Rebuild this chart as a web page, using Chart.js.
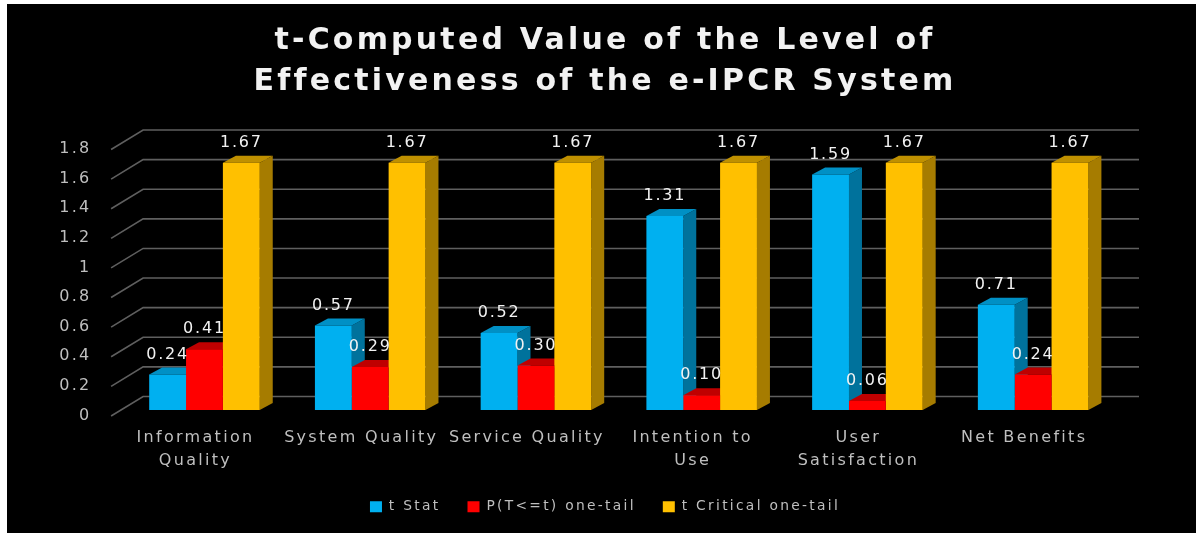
<!DOCTYPE html>
<html><head><meta charset="utf-8">
<style>html,body{margin:0;padding:0;background:#fff}#w{width:1196px;height:533px;position:relative;overflow:hidden}canvas{filter:blur(0.5px)}</style>
<script src="https://cdn.jsdelivr.net/npm/chart.js@4"></script>
</head><body><div id="w"><canvas id="c" width="1196" height="533"></canvas></div>
<script>
const titleLines = ["t-Computed Value of the Level of", "Effectiveness of the e-IPCR System"];
const categories = [["Information","Quality"],"System Quality","Service Quality",["Intention to","Use"],["User","Satisfaction"],"Net Benefits"];
const tStat = [0.24,0.57,0.52,1.31,1.59,0.71];
const pOneTail = [0.41,0.29,0.30,0.10,0.06,0.24];
const tCritical = [1.67,1.67,1.67,1.67,1.67,1.67];
const FONT = "'DejaVu Sans'";
const depthX = 13, depthY = 7, wallX = 32, wallFront = 5.5, wallBack = 13.5;
const faces = [
  {front:'#00B0F0', top:'#0090C5', side:'#00729C'},
  {front:'#FF0000', top:'#BF0000', side:'#A60000'},
  {front:'#FFC000', top:'#BF9000', side:'#A67C00'}
];
const plugin3d = {
  id:'plugin3d',
  beforeLayout(ch){ ch.ctx.letterSpacing='2.3px'; },
  afterLayout(ch){
    const tb = ch.titleBlock;
    if(tb && !tb._wrapped){
      const d = tb.draw;
      tb.draw = function(){ const c=ch.ctx; c.save(); c.letterSpacing='3.2px'; d.call(this); c.restore(); };
      tb._wrapped = true;
    }
  },
  beforeDraw(ch){
    const c = ch.ctx;
    c.letterSpacing='2.3px';
    c.save();
    c.fillStyle='#000'; c.fillRect(7,4,1189,529);
    c.restore();
  },
  beforeDatasetsDraw(ch){
    const c = ch.ctx, y = ch.scales.y;
    c.save();
    c.strokeStyle='#5f5f5f'; c.lineWidth=1.6;
    const backL = ch.chartArea.left + 21.5, backR = ch.chartArea.right + 23, frontL = backL - wallX;
    y.ticks.forEach(t=>{
      const p = y.getPixelForValue(t.value);
      c.beginPath();
      c.moveTo(frontL, p+wallFront+0.5);
      c.lineTo(backL, p-wallBack);
      c.lineTo(backR, p-wallBack);
      c.stroke();
    });
    ch.data.datasets.forEach((ds,i)=>{
      const f = faces[i];
      ch.getDatasetMeta(i).data.forEach(b=>{
        const l=b.x-b.width/2, r=b.x+b.width/2, top=b.y, base=b.base;
        c.fillStyle=f.side;
        c.beginPath(); c.moveTo(r,top); c.lineTo(r+depthX,top-depthY); c.lineTo(r+depthX,base-depthY); c.lineTo(r,base); c.closePath(); c.fill();
        c.fillStyle=f.top;
        c.beginPath(); c.moveTo(l,top); c.lineTo(l+depthX,top-depthY); c.lineTo(r+depthX,top-depthY); c.lineTo(r,top); c.closePath(); c.fill();
      });
    });
    c.restore();
  },
  afterDatasetsDraw(ch){
    const c = ch.ctx;
    c.save();
    c.fillStyle='#f2f2f2'; c.font="16px "+FONT; c.letterSpacing='1.8px';
    c.textAlign='center'; c.textBaseline='middle';
    ch.data.datasets.forEach((ds,i)=>{
      ch.getDatasetMeta(i).data.forEach((b,j)=>{
        c.fillText(ds.data[j].toFixed(2), b.x, b.y-20);
      });
    });
    c.restore();
  }
};
const labelFont = {family:FONT,size:16};
new Chart(document.getElementById('c'),{
  type:'bar',
  data:{labels:categories,datasets:[
    {label:'t Stat',data:tStat,backgroundColor:faces[0].front},
    {label:'P(T<=t) one-tail',data:pOneTail,backgroundColor:faces[1].front},
    {label:'t Critical one-tail',data:tCritical,backgroundColor:faces[2].front}
  ]},
  options:{
    responsive:false,animation:false,
    layout:{padding:{left:14,right:0,top:16,bottom:9.25}},
    datasets:{bar:{categoryPercentage:0.667,barPercentage:1,borderWidth:0}},
    plugins:{
      tooltip:{enabled:false},
      title:{display:true,text:titleLines,color:'#f2f2f2',font:{family:FONT,size:30,weight:'bold',lineHeight:1.367},padding:{top:5,bottom:40.5}},
      legend:{position:'bottom',labels:{color:'#bfbfbf',font:{family:FONT,size:13.8},boxWidth:12,boxHeight:11,padding:27}}
    },
    scales:{
      x:{
        grid:{display:false,drawTicks:false},border:{display:false},
        afterFit(s){s.height=63;},
        ticks:{color:'#bfbfbf',font:{...labelFont,lineHeight:1.44},padding:16,maxRotation:0,autoSkip:false,labelOffset:-9}
      },
      y:{
        min:0,max:1.8,
        grid:{display:false,drawTicks:false},border:{display:false},
        afterFit(s){s.width=107.6;},
        ticks:{color:'#bfbfbf',font:labelFont,stepSize:0.2,padding:30,labelOffset:5.5,callback:v=>String(+(+v).toFixed(1))}
      },
      rightSpace:{
        position:'right',display:true,
        grid:{display:false,drawTicks:false},border:{display:false},
        ticks:{display:false},
        afterFit(s){s.width=80;}
      }
    }
  },
  plugins:[plugin3d]
});
</script></body></html>
